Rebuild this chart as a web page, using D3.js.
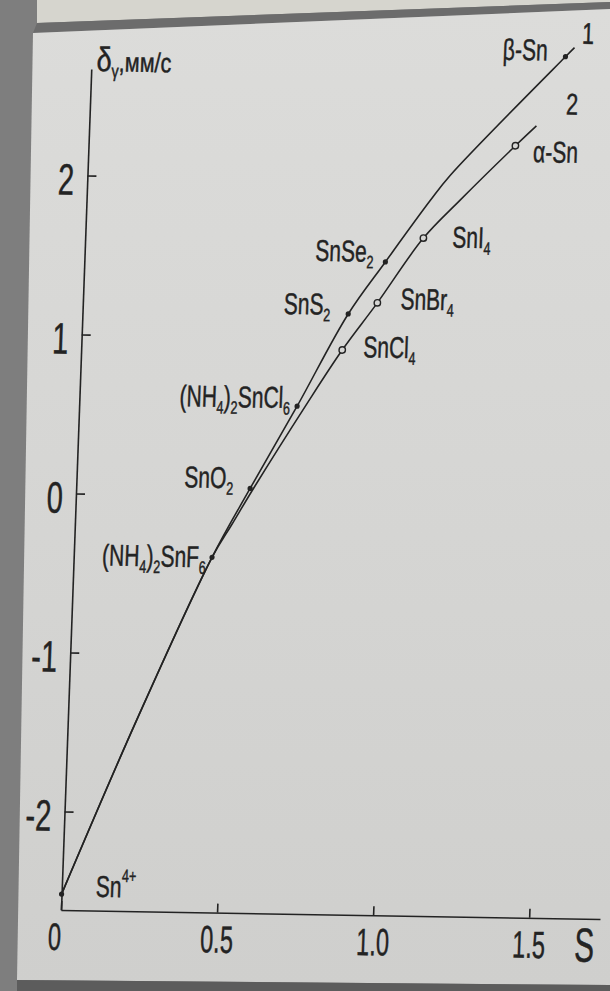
<!DOCTYPE html>
<html>
<head>
<meta charset="utf-8">
<script src="https://cdn.jsdelivr.net/npm/d3@7"></script>
<style>
  html, body { margin: 0; padding: 0; background: #7c7c7c; }
  svg { display: block; }
</style>
</head>
<body>
<svg id="chart" width="610" height="991"></svg>
<script>
// Mössbauer isomer shift of 119Sn compounds against the parameter S

// axis ticks
const xTicks = [0, 0.5, 1.0, 1.5];
const xTickLabels = ["0", "0.5", "1.0", "1.5"];
const yTicks = [-2, -1, 0, 1, 2];
const yTickLabels = ["-2", "-1", "0", "1", "2"];

// curve 1 (through the beta-Sn point): vertices of the drawn line
const curve1S = [0, 0.22, 0.443, 0.557, 0.698, 0.851, 0.964, 1.101, 1.162, 1.517, 1.545];
const curve1D = [-2.52, -1.42, -0.387, 0.05, 0.572, 1.157, 1.488, 1.88, 2.04, 2.797, 2.855];

// curve 2 (through the alpha-Sn point)
const curve2S = [0, 0.22, 0.443, 0.503, 0.570, 0.724, 0.836, 0.943, 1.083, 1.197, 1.367, 1.432];
const curve2D = [-2.52, -1.42, -0.387, -0.177, 0.058, 0.572, 0.930, 1.23, 1.642, 1.886, 2.232, 2.359];

// compounds on curve 1 (filled dots)
const comp1Names = ["Sn^{4+}", "(NH_4)_2SnF_6", "SnO_2", "(NH_4)_2SnCl_6", "SnS_2", "SnSe_2", "β-Sn"];
const comp1S = [0, 0.443, 0.557, 0.698, 0.851, 0.964, 1.517];
const comp1D = [-2.52, -0.387, 0.05, 0.572, 1.157, 1.488, 2.797];

// compounds on curve 2 (open circles)
const comp2Names = ["SnCl_4", "SnBr_4", "SnI_4", "α-Sn"];
const comp2S = [0.836, 0.943, 1.083, 1.367];
const comp2D = [0.930, 1.23, 1.642, 2.232];

const curveNames = ["1", "2"];

// label placement relative to its point (px)
const labelLayout = {
  "Sn^{4+}":        { dx: 34,  dy: 2,  anchor: "start" },
  "(NH_4)_2SnF_6":  { dx: -6,  dy: 10, anchor: "end" },
  "SnO_2":          { dx: -17, dy: 0,  anchor: "end" },
  "(NH_4)_2SnCl_6": { dx: -7,  dy: 2,  anchor: "end" },
  "SnS_2":          { dx: -18, dy: 1,  anchor: "end" },
  "SnSe_2":         { dx: -12, dy: 0,  anchor: "end" },
  "β-Sn":           { dx: -18, dy: 4,  anchor: "end" },
  "SnCl_4":         { dx: 21,  dy: 7,  anchor: "start" },
  "SnBr_4":         { dx: 23,  dy: 6,  anchor: "start" },
  "SnI_4":          { dx: 29,  dy: 9,  anchor: "start" },
  "α-Sn":           { dx: 18,  dy: 16, anchor: "start" }
};
const curveNameLayout = [{ dx: 13, dy: -4 }, { dx: 35, dy: -12 }];

const INK = "#232323";
const FONT = "'Liberation Sans', Arial, sans-serif";
const PEN = 0.45; // extra stroke on lettering

const svg = d3.select("#chart");

// ---- photographed sheet ----
const defs = svg.append("defs");
const grad = defs.append("linearGradient").attr("id", "paper")
  .attr("x1", 0).attr("y1", 0).attr("x2", 0).attr("y2", 1);
grad.append("stop").attr("offset", "0%").attr("stop-color", "#dcdcda");
grad.append("stop").attr("offset", "100%").attr("stop-color", "#cfcfcd");

svg.append("rect").attr("width", 610).attr("height", 991).attr("fill", "#7e7e7e");
svg.append("polygon").attr("points", "37,0 610,0 610,2 37,23").attr("fill", "#d6d5ce");
svg.append("polygon").attr("points", "37,23 610,2 610,9 33,33").attr("fill", "#6c6c6c");
svg.append("polygon").attr("points", "33,33 610,9 610,985 17,980").attr("fill", "url(#paper)");
svg.append("polygon").attr("points", "17,980 610,985 610,991 17,991").attr("fill", "#5c5c5c");

// ---- chart frame (sheet is slightly tilted in the photo) ----
const g = svg.append("g")
  .attr("transform", "matrix(1,0.0167,-0.036,1,61,910)");

const x = d3.scaleLinear().domain([0, 1.727]).range([0, 539]);
const y = d3.scaleLinear().domain([-2.62, 2.67]).range([0, -841]);

// rich text with sub/superscripts: "_x" one-char subscript, "^{..}" superscript
function rich(text, str, size) {
  const parts = [];
  let i = 0;
  while (i < str.length) {
    if (str[i] === "_") { parts.push({ t: str[i + 1], k: "sub" }); i += 2; }
    else if (str[i] === "^" && str[i + 1] === "{") {
      const j = str.indexOf("}", i);
      parts.push({ t: str.slice(i + 2, j), k: "sup" }); i = j + 1;
    } else {
      let j = i;
      while (j < str.length && str[j] !== "_" && str[j] !== "^") j++;
      parts.push({ t: str.slice(i, j), k: "n" }); i = j;
    }
  }
  let cur = 0;
  parts.forEach(p => {
    const target = p.k === "sub" ? size * 0.22 : p.k === "sup" ? -size * 0.5 : 0;
    text.append("tspan")
      .attr("dy", target - cur)
      .attr("font-size", p.k === "n" ? size : size * 0.6)
      .text(p.t);
    cur = target;
  });
}

function pen(sel) {
  sel.attr("fill", INK).attr("stroke", INK).attr("stroke-width", PEN);
}

// y axis
const yAxis = g.append("g")
  .attr("color", INK)
  .call(d3.axisRight(y).tickValues(yTicks).tickSize(9).tickSizeOuter(0)
    .tickFormat((d, i) => yTickLabels[i]));
yAxis.select(".domain").attr("stroke-width", 1.6);
yAxis.selectAll(".tick line").attr("stroke-width", 1.6);
yAxis.selectAll(".tick text")
  .attr("x", 0).attr("dy", 0)
  .attr("text-anchor", "end")
  .attr("font-family", FONT).attr("font-size", 44)
  .attr("transform", "translate(-13,19) scale(0.66,1)")
  .call(pen);

// x axis
const xAxis = g.append("g")
  .attr("color", INK)
  .call(d3.axisTop(x).tickValues(xTicks).tickSize(9).tickSizeOuter(0)
    .tickFormat((d, i) => xTickLabels[i]));
xAxis.select(".domain").attr("stroke-width", 1.6);
xAxis.selectAll(".tick line").attr("stroke-width", 1.6);
xAxis.selectAll(".tick text")
  .attr("y", 0).attr("dy", 0)
  .attr("font-family", FONT).attr("font-size", 38)
  .attr("transform", d => `translate(${d === 0 ? -6 : 0},40) scale(0.62,1)`)
  .call(pen);

// axis titles
g.append("text")
  .attr("font-family", FONT).attr("font-size", 48)
  .attr("text-anchor", "middle")
  .attr("transform", `translate(${x(1.68)},43) scale(0.62,1)`)
  .call(pen)
  .text("S");

const yTitle = g.append("text")
  .attr("font-family", FONT)
  .attr("transform", `translate(5,${y(2.67) + 2}) scale(0.8,1)`)
  .call(pen);
yTitle.append("tspan").attr("font-size", 34).text("δ");
yTitle.append("tspan").attr("font-size", 18).attr("dy", 6).text("γ");
yTitle.append("tspan").attr("font-size", 27).attr("dy", -6).text(",мм/с");

// curves
const line = d3.line().x(d => x(d[0])).y(d => y(d[1])).curve(d3.curveCatmullRom.alpha(0.5));
const curves = [d3.zip(curve1S, curve1D), d3.zip(curve2S, curve2D)];
g.selectAll("path.curve").data(curves).join("path")
  .attr("class", "curve")
  .attr("d", line)
  .attr("fill", "none")
  .attr("stroke", INK)
  .attr("stroke-width", 1.6);

// curve numbers
curves.forEach((c, i) => {
  const last = c[c.length - 1];
  g.append("text")
    .attr("font-family", FONT).attr("font-size", 30)
    .attr("text-anchor", "middle")
    .attr("transform", `translate(${x(last[0]) + curveNameLayout[i].dx},${y(last[1]) + curveNameLayout[i].dy}) scale(0.72,1)`)
    .call(pen)
    .text(curveNames[i]);
});

// points
const pts1 = comp1Names.map((n, i) => ({ name: n, s: comp1S[i], d: comp1D[i] }));
const pts2 = comp2Names.map((n, i) => ({ name: n, s: comp2S[i], d: comp2D[i] }));

g.selectAll("circle.filled").data(pts1).join("circle")
  .attr("class", "filled")
  .attr("cx", d => x(d.s)).attr("cy", d => y(d.d))
  .attr("r", 2.6).attr("fill", INK);

g.selectAll("circle.open").data(pts2).join("circle")
  .attr("class", "open")
  .attr("cx", d => x(d.s)).attr("cy", d => y(d.d))
  .attr("r", 3.2).attr("fill", "#d6d6d4")
  .attr("stroke", INK).attr("stroke-width", 1.4);

// compound labels
pts1.concat(pts2).forEach(p => {
  const L = labelLayout[p.name];
  const t = g.append("text")
    .attr("font-family", FONT)
    .attr("text-anchor", L.anchor)
    .attr("transform", `translate(${x(p.s) + L.dx},${y(p.d) + L.dy}) scale(0.7,1)`)
    .call(pen);
  rich(t, p.name, 30);
});
</script>
</body>
</html>
